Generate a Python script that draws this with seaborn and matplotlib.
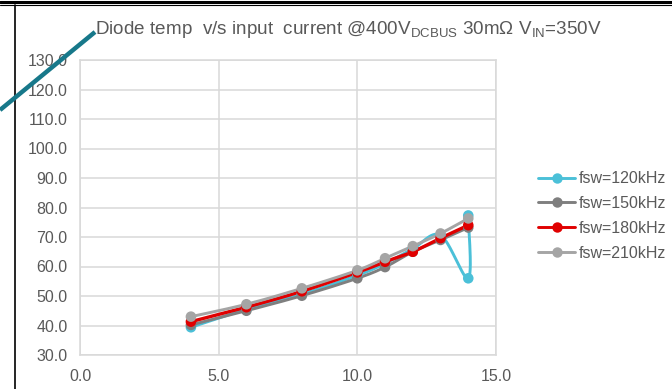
import numpy as np
import pandas as pd
import matplotlib
matplotlib.use("Agg")
import matplotlib.pyplot as plt
from matplotlib.lines import Line2D
import seaborn as sns

# ---- data ----
series_names = ["fsw=120kHz", "fsw=150kHz", "fsw=180kHz", "fsw=210kHz"]
x_120 = [4, 6, 8, 10, 11, 12, 13, 14, 14]
y_120 = [39.4, 45.5, 50.6, 57.0, 61.0, 66.0, 70.6, 56.0, 77.3]
x_150 = [4, 6, 8, 10, 11, 12, 13, 14]
y_150 = [40.2, 45.0, 50.1, 56.0, 59.8, 65.0, 69.0, 73.2]
x_180 = [4, 6, 8, 10, 11, 12, 13, 14]
y_180 = [41.3, 46.2, 51.6, 58.0, 61.6, 65.0, 69.6, 74.0]
x_210 = [4, 6, 8, 10, 11, 12, 13, 14]
y_210 = [43.0, 47.2, 52.6, 58.7, 62.8, 66.9, 71.2, 76.3]
colors = ["#4BC0D8", "#7F7F7F", "#E00000", "#A5A5A5"]
x_ticks = [0, 5, 10, 15]
y_ticks = [30, 40, 50, 60, 70, 80, 90, 100, 110, 120, 130]

xs = [x_120, x_150, x_180, x_210]
ys = [y_120, y_150, y_180, y_210]


def smooth(px, py, n=30):
    """Uniform Catmull-Rom curve through the points (Excel-style smoothing)."""
    P = np.column_stack([px, py]).astype(float)
    P = np.vstack([P[0], P, P[-1]])
    out = []
    t = np.linspace(0, 1, n)[:, None]
    for i in range(1, len(P) - 2):
        p0, p1, p2, p3 = P[i - 1], P[i], P[i + 1], P[i + 2]
        m1 = (p2 - p0) / 2
        m2 = (p3 - p1) / 2
        h00 = 2 * t**3 - 3 * t**2 + 1
        h10 = t**3 - 2 * t**2 + t
        h01 = -2 * t**3 + 3 * t**2
        h11 = t**3 - t**2
        seg = h00 * p1 + h10 * m1 + h01 * p2 + h11 * m2
        out.append(seg if i == 1 else seg[1:])
    c = np.vstack(out)
    return c[:, 0], c[:, 1]


sns.set_theme(style="whitegrid")
plt.rcParams["font.family"] = ["Liberation Sans", "DejaVu Sans"]
plt.rcParams["mathtext.fontset"] = "custom"
plt.rcParams["mathtext.rm"] = "Liberation Sans"

fig = plt.figure(figsize=(6.72, 3.89), dpi=100)
fig.patch.set_facecolor("white")
ax = fig.add_axes([80 / 672, 1 - 355 / 389, (496 - 80) / 672, (355 - 60) / 389])
ax.set_facecolor("white")

for name, xv, yv, col in zip(series_names, xs, ys, colors):
    sx, sy = smooth(xv, yv)
    lw = 2.4 if col == "#E00000" else 2.1
    sns.lineplot(x=sx, y=sy, sort=False, estimator=None, color=col, lw=lw, ax=ax)
    sns.scatterplot(x=xv, y=yv, color=col, s=58, edgecolor="none", ax=ax, zorder=3)

ax.set_xlim(0, 15)
ax.set_ylim(30, 130)
ax.set_xticks(x_ticks)
ax.set_yticks(y_ticks)
ax.set_xticklabels([f"{v:.1f}" for v in x_ticks])
ax.set_yticklabels([f"{v:.1f}" for v in y_ticks])
ax.tick_params(axis="y", labelsize=11.5, colors="#595959", length=0, pad=9)
ax.tick_params(axis="x", labelsize=11.5, colors="#595959", length=0, pad=10)
ax.grid(True, color="#D9D9D9", lw=1.1)
for s in ax.spines.values():
    s.set_color("#D9D9D9")
    s.set_linewidth(1.1)
ax.set_xlabel("")
ax.set_ylabel("")
if ax.get_legend():
    ax.get_legend().remove()

handles = [Line2D([0], [0], color=c, lw=2.1, marker="o", markersize=7.5,
                  markeredgecolor="none") for c in colors]
fig.legend(handles, series_names, loc="center left",
           bbox_to_anchor=(524 / 672, 1 - 216 / 389), frameon=False,
           fontsize=11.5, labelcolor="#595959", handlelength=2.3,
           handletextpad=0.25, labelspacing=0.62)

fig.text(95 / 672, 1 - 30 / 389,
         "Diode temp  v/s input  current @400V$_{\\mathrm{DCBUS}}$ 30m\u03a9 V$_{\\mathrm{IN}}$=350V",
         fontsize=13.6, color="#595959", ha="left", va="center")

# page decorations: border lines and teal callout line
fig.add_artist(Line2D([0, 1], [1 - 1.5 / 389, 1 - 1.5 / 389], color="black", lw=2.2,
                      transform=fig.transFigure))
fig.add_artist(Line2D([0, 1], [1 - 4.5 / 389, 1 - 4.5 / 389], color="black", lw=0.8,
                      transform=fig.transFigure))
fig.add_artist(Line2D([15 / 672, 15 / 672], [0, 1 - 4.5 / 389], color="black", lw=1.2,
                      transform=fig.transFigure))
fig.add_artist(Line2D([0, 95 / 672], [1 - 110 / 389, 1 - 32 / 389], color="#17788A",
                      lw=3.2, transform=fig.transFigure, solid_capstyle="butt"))

fig.savefig("out.png", dpi=100)
